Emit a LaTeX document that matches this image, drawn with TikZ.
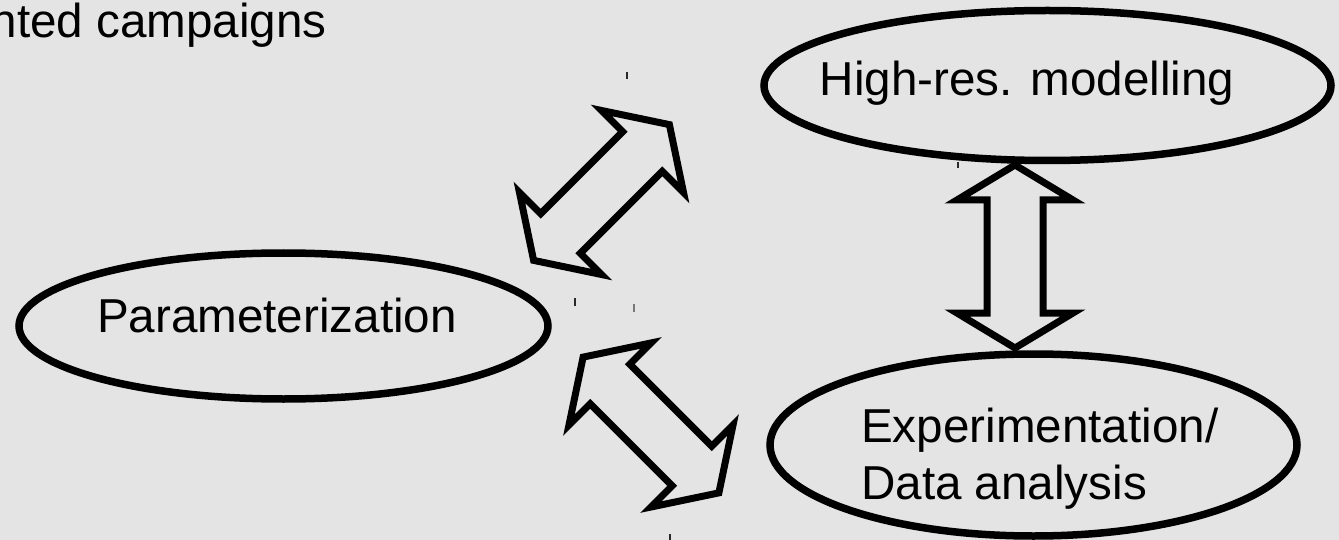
\documentclass[tikz,border=0pt]{standalone}
\usepackage{fontspec}
\setmainfont{Liberation Sans}
\usetikzlibrary{shapes.geometric}
\definecolor{bgcol}{RGB}{228,228,228}
\definecolor{tickdark}{RGB}{40,40,40}
\definecolor{tickgray}{RGB}{120,120,120}
\newcommand{\dblarrow}[4]{%
  \begin{scope}[shift={#1},rotate=#2]
    \draw[blockarrow] (-#3,0) -- (-#3+#4,58) -- (-#3+#4,28) -- (#3-#4,28) -- (#3-#4,58) -- (#3,0)
      -- (#3-#4,-58) -- (#3-#4,-28) -- (-#3+#4,-28) -- (-#3+#4,-58) -- cycle;
  \end{scope}}
\begin{document}
\begin{tikzpicture}[x=1pt,y=-1pt,
  oval/.style={draw=black, line width=7.5pt, ellipse, inner sep=0pt},
  txt/.style={font=\fontsize{47.6}{57}\selectfont, inner sep=0pt, text=black},
  blockarrow/.style={draw=black, line width=7pt, line join=miter},
  tickmark/.style={line width=1.5pt}]
\fill[bgcol] (0,0) rectangle (1339,540);
\useasboundingbox (0,0) rectangle (1339,540);

% ellipses
\node[oval, minimum width=567pt, minimum height=150pt] (hires) at (1047.5,85.5) {};
\node[oval, minimum width=529pt, minimum height=146pt] (param) at (283.5,326) {};
\node[oval, minimum width=527pt, minimum height=182pt] (expt) at (1033.5,445) {};

% texts
\node[txt, anchor=base east] (title) at (327,38) {nted campaigns};
\node[txt, anchor=base] (hirest) at (1027,96) {High-res. modelling};
\node[txt, anchor=base] (paramt) at (277,332) {Parameterization};
\node[txt, anchor=base west] (expt1) at (861,442) {Experimentation/};
\node[txt, anchor=base west] (expt2) at (861,499) {Data analysis};

% double block arrows
\coordinate (arrA) at (601.5,192.5);
\coordinate (arrB) at (651,425);
\coordinate (arrC) at (1015,256.5);
\dblarrow{(arrA)}{45}{96}{38}
\dblarrow{(arrB)}{-45}{96}{38}
\dblarrow{(arrC)}{90}{91.5}{35}

% small marks
\draw[tickmark, tickdark] (627,72) -- (627,79);
\draw[tickmark, tickdark] (575,298) -- (575,306);
\draw[tickmark, tickgray] (634,304) -- (634,312);
\draw[tickmark, tickdark] (670,534) -- (670,540);
\draw[tickmark, tickdark] (958,162) -- (958,168);
\end{tikzpicture}
\end{document}
